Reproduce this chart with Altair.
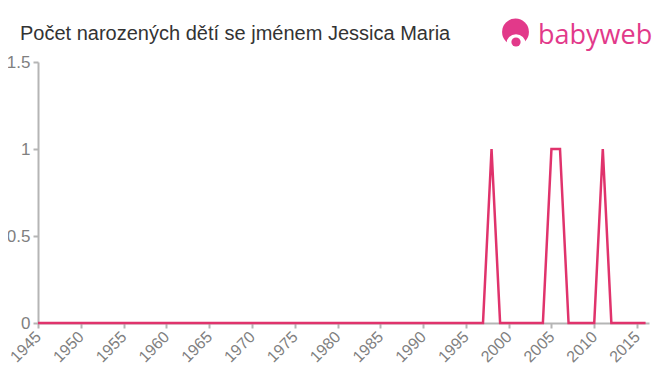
import altair as alt
import pandas as pd

years = list(range(1945, 2017))
counts = [0, 0, 0, 0, 0, 0, 0, 0, 0, 0,   # 1945-1954
          0, 0, 0, 0, 0, 0, 0, 0, 0, 0,   # 1955-1964
          0, 0, 0, 0, 0, 0, 0, 0, 0, 0,   # 1965-1974
          0, 0, 0, 0, 0, 0, 0, 0, 0, 0,   # 1975-1984
          0, 0, 0, 0, 0, 0, 0, 0, 0, 0,   # 1985-1994
          0, 0, 0, 1, 0, 0, 0, 0, 0, 0,   # 1995-2004
          1, 1, 0, 0, 0, 0, 1, 0, 0, 0,   # 2005-2014
          0, 0]                           # 2015-2016
x_ticks = [1945, 1950, 1955, 1960, 1965, 1970, 1975, 1980, 1985, 1990,
           1995, 2000, 2005, 2010, 2015]
y_ticks = [0, 0.5, 1, 1.5]
title_text = "Počet narozených dětí se jménem Jessica Maria"
logo_word = "babyweb"

df = pd.DataFrame({"year": years, "count": counts})

axis_common = dict(domainColor="#b5b5b5", tickColor="#b5b5b5", labelColor="#808080",
                   labelFont="Liberation Sans", grid=False, tickSize=5, domainWidth=2, tickWidth=2)

line = alt.Chart(df).mark_line(color="#e0336c", strokeWidth=2.5, clip=False).encode(
    x=alt.X("year:Q", scale=alt.Scale(domain=[1945, 2016.4], nice=False, zero=False),
            axis=alt.Axis(values=x_ticks, format="d", labelAngle=-45, labelFontSize=16,
                          labelAlign="right", labelBaseline="middle", labelPadding=6, title=None,
                          **axis_common)),
    y=alt.Y("count:Q", scale=alt.Scale(domain=[0, 1.5], nice=False),
            axis=alt.Axis(values=y_ticks, format=".1~f", labelFontSize=17, title=None,
                          labelPadding=3, **axis_common)),
)

one = pd.DataFrame({"a": [0]})
pink = "#e2398a"
title_mark = alt.Chart(one).mark_text(
    text=title_text, color="#333333", fontSize=20, font="Liberation Sans", align="left",
    baseline="alphabetic").encode(x=alt.value(-18), y=alt.value(-22))
logo_circle = alt.Chart(one).mark_point(
    shape="circle", filled=True, color=pink, opacity=1, size=720).encode(
    x=alt.value(477.5), y=alt.value(-30))
logo_white = alt.Chart(one).mark_point(
    shape="circle", filled=True, color="white", opacity=1, size=380).encode(
    x=alt.value(478), y=alt.value(-18))
logo_head = alt.Chart(one).mark_point(
    shape="circle", filled=True, color=pink, opacity=1, size=85).encode(
    x=alt.value(478), y=alt.value(-20))
logo_text = alt.Chart(one).mark_text(
    text=logo_word, color=pink, fontSize=27, font="Open Sans", align="left",
    baseline="alphabetic").encode(x=alt.value(500), y=alt.value(-18))

chart = alt.layer(line, title_mark, logo_circle, logo_white, logo_head, logo_text).properties(
    width=611, height=261,
    autosize=alt.AutoSizeParams(type="none"),
    padding={"left": 30, "top": 54, "right": 3, "bottom": 52},
).configure_view(stroke=None)

chart.save("out.html", embed_options={"renderer": "svg", "actions": False})
